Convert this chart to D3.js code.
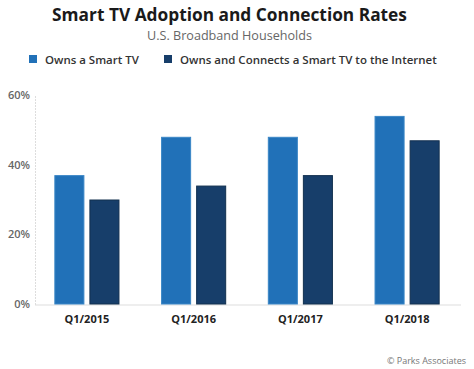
<!DOCTYPE html>
<html><head><meta charset="utf-8">
<script src="https://cdn.jsdelivr.net/npm/d3@7"></script>
<style>
body{margin:0;background:#fff;}
svg{display:block;font-family:"Open Sans","Noto Sans",sans-serif;}
</style></head>
<body><svg id="c" width="474" height="369"></svg>
<script>
const categories = ["Q1/2015","Q1/2016","Q1/2017","Q1/2018"];
const seriesNames = ["Owns a Smart TV","Owns and Connects a Smart TV to the Internet"];
const ownsSmartTV = [37, 48, 48, 54];
const ownsAndConnects = [30, 34, 37, 47];
const yTicks = [0, 20, 40, 60];
const colors = ["#2171b8", "#173e6a"];
const strokes = ["#3a86c6", "#12304f"];

const svg = d3.select("#c");
const y = d3.scaleLinear().domain([0, 60]).range([304, 95]);
const x0 = d3.scaleBand().domain(categories).range([33, 461]).paddingInner(0.39).paddingOuter(0.2);
const x1 = d3.scaleBand().domain([0,1]).range([0, x0.bandwidth()]).paddingInner(0.143);

function fit(sel, w){
  const n = sel.node(); const l = n.getComputedTextLength();
  const fs = parseFloat(sel.attr("font-size"));
  sel.attr("font-size", fs * w / l);
}

// Title
const t = svg.append("text").attr("x", 229.5).attr("y", 21).attr("text-anchor","middle")
  .attr("font-size", 17).attr("font-weight", 700).attr("fill","#1a1a1a")
  .text("Smart TV Adoption and Connection Rates");
fit(t, 355);
const st = svg.append("text").attr("x", 229.5).attr("y", 40).attr("text-anchor","middle")
  .attr("font-size", 12).attr("fill","#666")
  .text("U.S. Broadband Households");
fit(st, 165);

// Legend
const legX = [29, 164], legTW = [94, 257];
seriesNames.forEach((s, i) => {
  svg.append("rect").attr("x", legX[i]).attr("y", 55).attr("width", 8).attr("height", 8).attr("fill", colors[i]);
  const lt = svg.append("text").attr("x", legX[i] + 16).attr("y", 63.5)
    .attr("font-size", 12).attr("font-weight", 600).attr("fill", "#333").text(s);
  fit(lt, legTW[i]);
});

// Axes
const yAxis = svg.append("g").attr("transform", "translate(35,0)")
  .call(d3.axisLeft(y).tickValues(yTicks).tickFormat(d => d + "%").tickSize(0).tickPadding(5));
yAxis.select(".domain").attr("stroke", "#bbb").attr("stroke-dasharray", "1,2");
yAxis.selectAll("text").attr("font-size", 11).attr("font-weight", 600).attr("fill", "#666")
  .attr("font-family", "'Open Sans',sans-serif");

const xAxis = svg.append("g").attr("transform", "translate(0,305)")
  .call(d3.axisBottom(x0).tickSize(0).tickPadding(10));
xAxis.select(".domain").attr("stroke", "#ddd").attr("d", "M35,0H461");
xAxis.selectAll("text").attr("font-size", 11).attr("font-weight", 700).attr("fill", "#222")
  .attr("font-family", "'Open Sans',sans-serif");

// Bars
const data = categories.map((c, i) => ({c, v: [ownsSmartTV[i], ownsAndConnects[i]]}));
svg.append("g").selectAll("g").data(data).join("g")
  .attr("transform", d => `translate(${x0(d.c)},0)`)
  .selectAll("rect").data(d => d.v.map((v, k) => ({v, k}))).join("rect")
  .attr("x", d => x1(d.k) + 0.5).attr("width", x1.bandwidth() - 1)
  .attr("y", d => y(d.v) + 0.5).attr("height", d => y(0) - y(d.v) - 0.5)
  .attr("fill", d => colors[d.k])
  .attr("stroke", d => strokes[d.k]).attr("stroke-width", 1);

// Source
svg.append("text").attr("x", 466).attr("y", 364).attr("text-anchor", "end")
  .attr("font-size", 9).attr("fill", "#777").text("© Parks Associates");
</script></body></html>
